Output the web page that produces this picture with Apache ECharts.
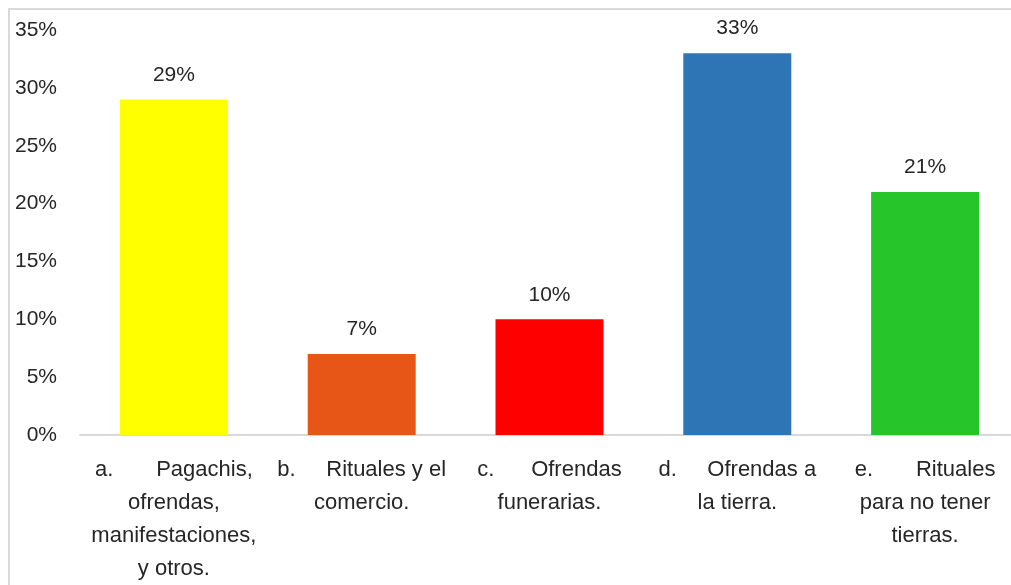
<!DOCTYPE html>
<html>
<head>
<meta charset="utf-8">
<script src="https://cdn.jsdelivr.net/npm/echarts@6/dist/echarts.min.js"></script>
<style>
  html, body { margin: 0; padding: 0; background: #fff; }
  #chart { width: 1011px; height: 585px; }
</style>
</head>
<body>
<div id="chart"></div>
<script>
// categorias del eje x (saltos de linea como en el original)
var categories = [
  "a.       Pagachis,\nofrendas,\nmanifestaciones,\ny otros.",
  "b.     Rituales y el\ncomercio.",
  "c.      Ofrendas\nfunerarias.",
  "d.     Ofrendas a\nla tierra.",
  "e.       Rituales\npara no tener\ntierras."
];
var values = [29, 7, 10, 33, 21];
var barColors = ["#FFFF00", "#E85617", "#FF0000", "#2E75B6", "#26C52A"];
var yTicks = [0, 5, 10, 15, 20, 25, 30, 35];

var font = '"Liberation Sans", sans-serif';

var myChart = echarts.init(document.getElementById("chart"));

var option = {
  animation: false,
  graphic: [
    {
      type: "rect",
      shape: { x: 9, y: 9, width: 1100, height: 700 },
      style: { fill: "none", stroke: "#D9D9D9", lineWidth: 2 }
    }
  ],
  grid: {
    left: 80,
    top: 30,
    width: 939,
    height: 405,
    outerBoundsMode: "none"
  },
  xAxis: {
    type: "category",
    data: categories,
    axisTick: { show: false },
    axisLine: { lineStyle: { color: "#D9D9D9", width: 2 } },
    axisLabel: {
      interval: 0,
      margin: 18,
      color: "#262626",
      fontSize: 22,
      fontFamily: font,
      lineHeight: 33,
      align: "center"
    }
  },
  yAxis: {
    type: "value",
    min: yTicks[0],
    max: yTicks[yTicks.length - 1],
    interval: 5,
    axisLine: { show: false },
    axisTick: { show: false },
    splitLine: { show: false },
    axisLabel: {
      margin: 23,
      color: "#262626",
      fontSize: 21,
      fontFamily: font,
      formatter: function (v) { return v + "%"; }
    }
  },
  series: [
    {
      type: "bar",
      barWidth: "57.5%",
      data: values.map(function (v, i) {
        return { value: v, itemStyle: { color: barColors[i] } };
      }),
      label: {
        show: true,
        position: "top",
        distance: 14,
        color: "#262626",
        fontSize: 21,
        fontFamily: font,
        formatter: "{c}%"
      }
    }
  ]
};

myChart.setOption(option);
</script>
</body>
</html>
